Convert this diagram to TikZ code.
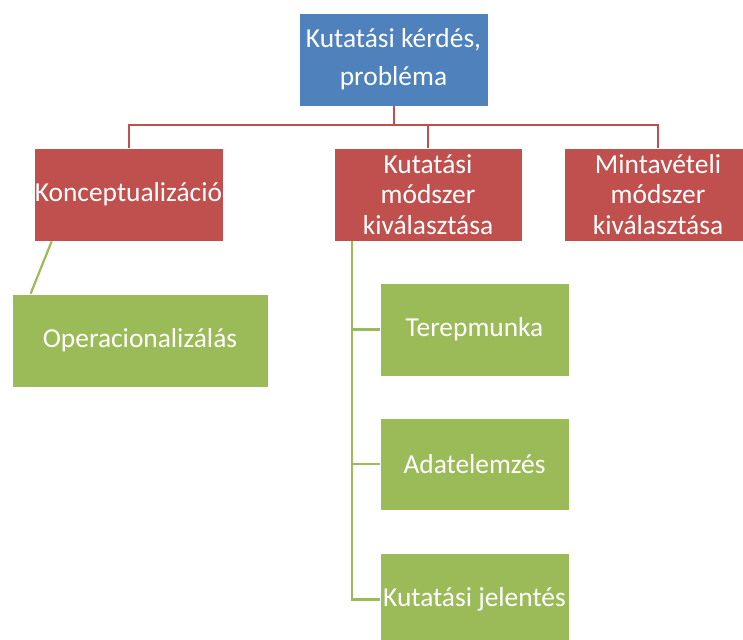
\documentclass[tikz,border=0pt]{standalone}
\usepackage{fontspec}
\setmainfont{Carlito}
\definecolor{topblue}{HTML}{4F81BD}
\definecolor{levelred}{HTML}{C0504D}
\definecolor{leafgreen}{HTML}{9BBB59}
\tikzset{
  card/.style={draw=white, line width=0.7pt, text=white, align=center,
    inner sep=0pt, minimum width=189pt, minimum height=93pt,
    font=\fontsize{27.4}{30.5}\selectfont},
  bluecard/.style={card, fill=topblue},
  redcard/.style={card, fill=levelred},
  greencard/.style={card, fill=leafgreen},
  redlink/.style={draw=levelred, line width=2pt},
  greenlink/.style={draw=leafgreen, line width=2.2pt}
}
\begin{document}
\begin{tikzpicture}[x=1pt, y=-1pt]
  \clip (0,0) rectangle (743,639);
  \fill[white] (0,0) rectangle (743,639);

  % top of the hierarchy
  \node[bluecard, font=\fontsize{27.4}{38}\selectfont] (top) at (393.5,59.5)
    {Kutatási kérdés,\\probléma};

  % second level
  \node[redcard] (konc) at (128.5,194.5) {Konceptualizáció};
  \node[redcard, minimum width=188pt] (kut) at (428,194.5)
    {Kutatási\\módszer\\kiválasztása};
  \node[redcard, minimum width=188pt] (minta) at (658,194.5)
    {Mintavételi\\módszer\\kiválasztása};

  % third level
  \node[greencard, minimum width=256pt] (oper) at (140,340.5) {Operacionalizálás};
  \node[greencard] (terep) at (474.5,329.5) {Terepmunka};
  \node[greencard, minimum height=92pt] (adat) at (474.5,464) {Adatelemzés};
  \node[greencard] (kj) at (474.5,599.5) {Kutatási jelentés};

  % red bus from the top box to the second level
  \coordinate (bus) at (0,125.5);
  \draw[redlink] (top.south) -- (top.south |- bus) -| (konc.north);
  \draw[redlink] (top.south |- bus) -| (kut.north);
  \draw[redlink] (top.south |- bus) -| (minta.north);

  % green links to the third level
  \draw[greenlink] ([xshift=18pt]konc.south west) -- ([xshift=19pt]oper.north west);
  \coordinate (trunk) at ([xshift=18pt]kut.south west);
  \draw[greenlink] (trunk) |- (terep.west);
  \draw[greenlink] (trunk) |- (adat.west);
  \draw[greenlink] (trunk) |- (kj.west);
\end{tikzpicture}
\end{document}
